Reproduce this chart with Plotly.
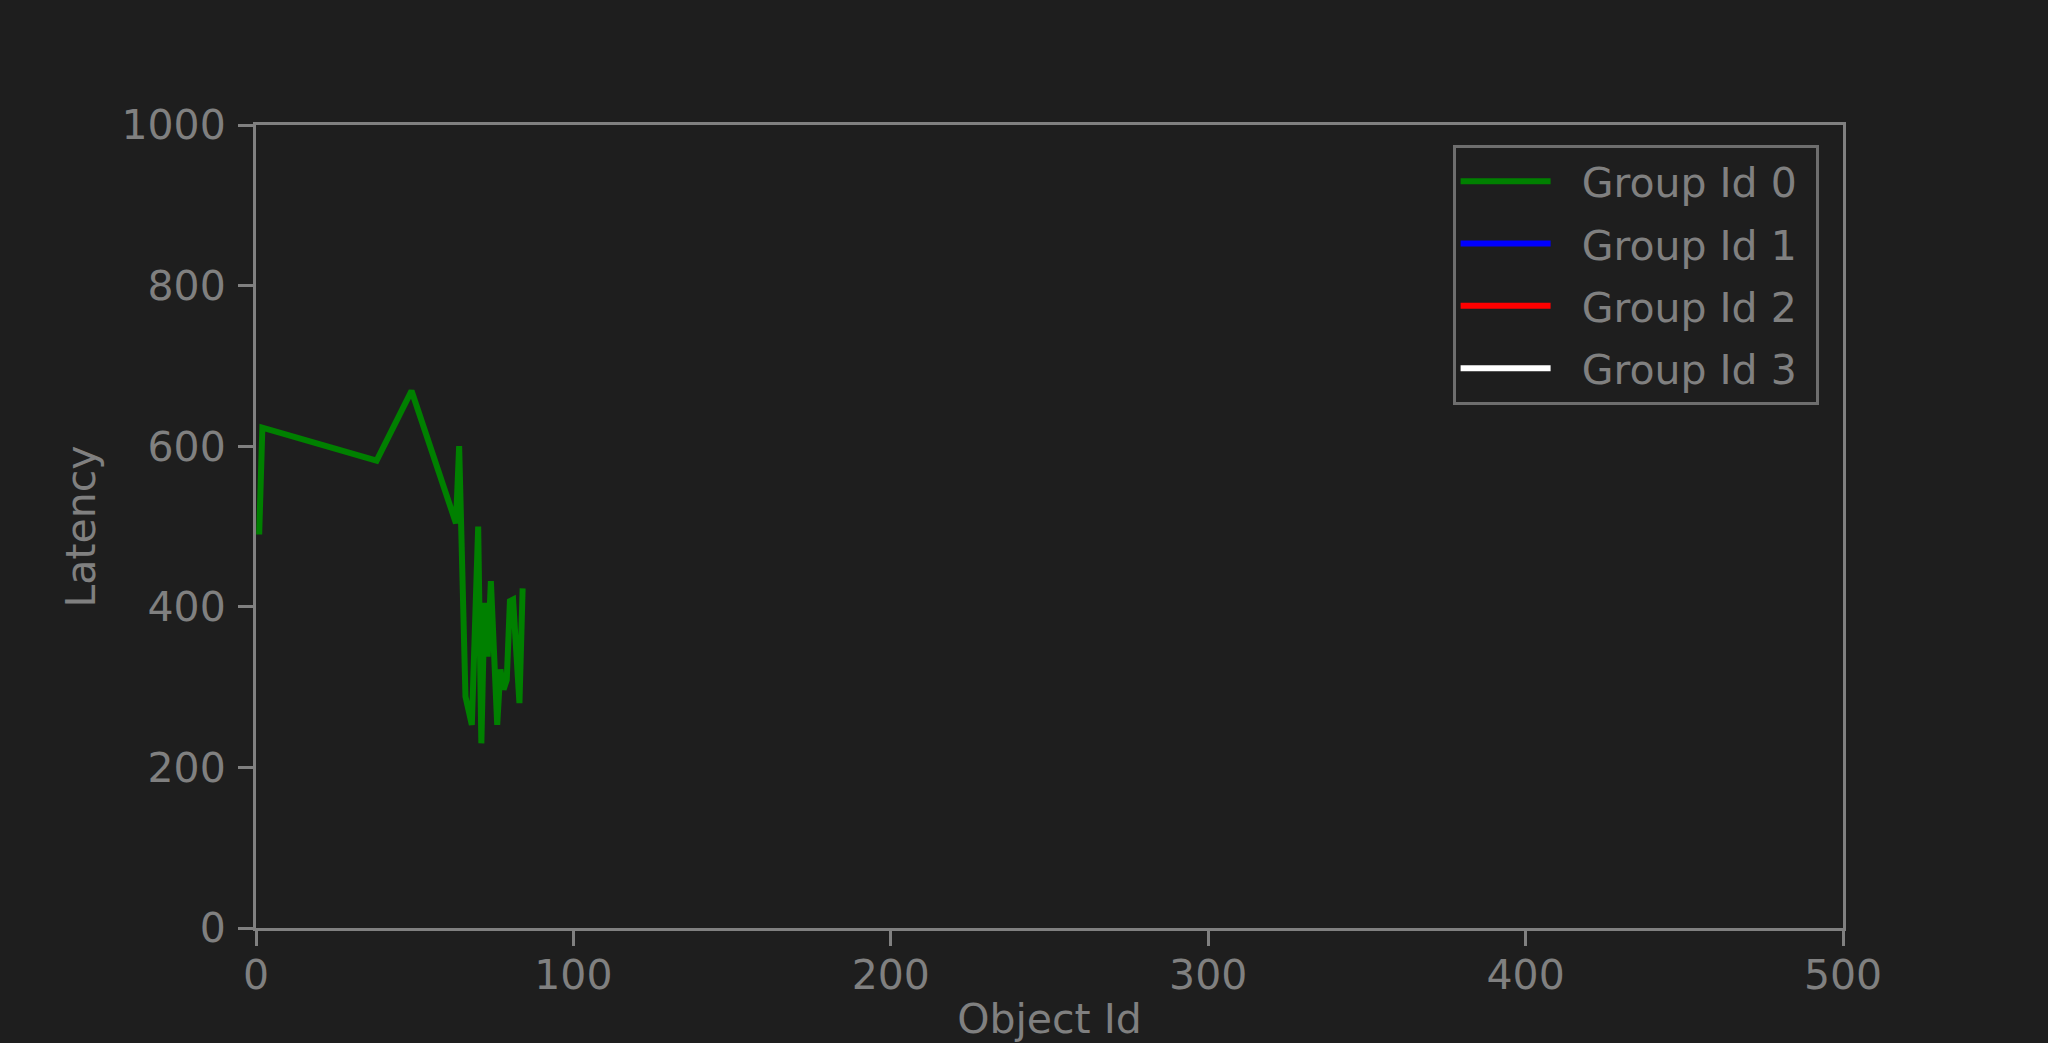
import plotly.graph_objects as go

# Data
object_id_g0 = [1, 2, 38, 49, 63, 64, 66, 68, 70, 71, 72, 73, 74, 76, 77, 78, 79, 80, 81, 83, 84]
latency_g0 = [490, 623, 582, 669, 504, 600, 288, 253, 500, 230, 405, 338, 432, 253, 322, 297, 309, 407, 409, 280, 423]

group_names = ["Group Id 0", "Group Id 1", "Group Id 2", "Group Id 3"]
group_colors = ["#008000", "#0000ff", "#ff0000", "#ffffff"]
# groups 1-3 have no points in the reference
series_x = [object_id_g0, [None], [None], [None]]
series_y = [latency_g0, [None], [None], [None]]

x_ticks = [0, 100, 200, 300, 400, 500]
y_ticks = [0, 200, 400, 600, 800, 1000]

BG = "#1e1e1e"
GRAY = "#808080"
FONT = "DejaVu Sans"
NB = "\u00a0"

fig = go.Figure()
for i, name in enumerate(group_names):
    fig.add_trace(go.Scatter(
        x=series_x[i], y=series_y[i], mode="lines", name=NB * 2 + name + NB,
        line=dict(color=group_colors[i], width=6),
        legendgroup=name,
    ))

fig.update_layout(
    width=2048, height=1043,
    paper_bgcolor=BG, plot_bgcolor=BG,
    margin=dict(l=256, r=205, t=125, b=115, autoexpand=False),
    font=dict(family=FONT, size=41, color=GRAY),
    showlegend=True,
    legend=dict(
        x=0.754, y=0.975, xanchor="left", yanchor="top",
        bgcolor=BG, bordercolor="#6e6e6e", borderwidth=3,
        font=dict(family=FONT, size=41, color=GRAY),
        itemwidth=90, tracegroupgap=6,
    ),
)

axis_common = dict(
    showgrid=False, zeroline=False, showline=True, mirror=True,
    linecolor=GRAY, linewidth=3, ticks="outside", ticklen=15,
    tickwidth=3, tickcolor=GRAY,
    tickfont=dict(family=FONT, size=41, color=GRAY),
)
fig.update_xaxes(
    range=[0, 500], tickvals=x_ticks, ticktext=[str(v) for v in x_ticks],
    ticklabelstandoff=-6,
    title=dict(text="Object Id", font=dict(family=FONT, size=41, color=GRAY), standoff=30),
    **axis_common,
)
fig.update_yaxes(
    range=[0, 1000], tickvals=y_ticks, ticktext=[str(v) for v in y_ticks],
    ticklabelstandoff=4,
    title=dict(text="Latency", font=dict(family=FONT, size=41, color=GRAY), standoff=14),
    **axis_common,
)

fig.write_html(
    "out.html",
    config={"displayModeBar": False},
    post_script="document.body.style.margin='0';document.body.style.background='#1e1e1e';",
)
